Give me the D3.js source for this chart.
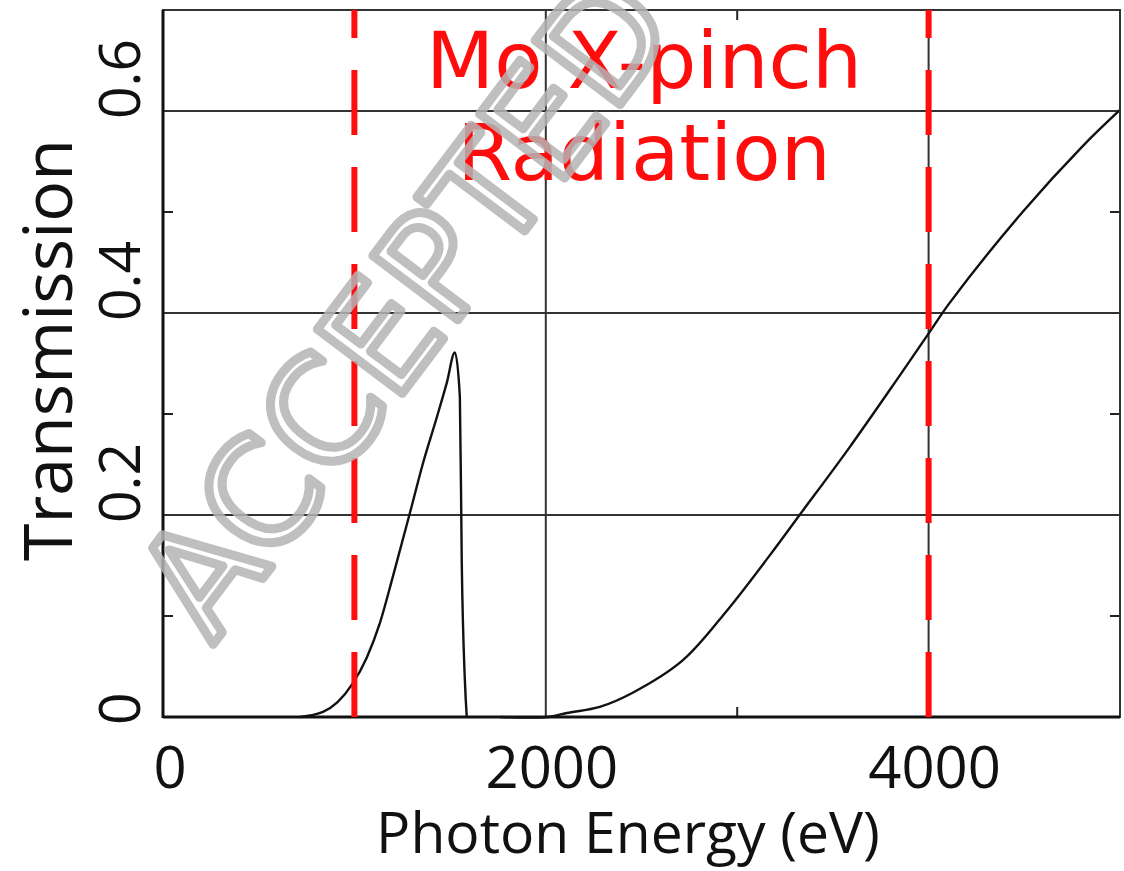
<!DOCTYPE html>
<html>
<head>
<meta charset="utf-8">
<script src="https://cdn.jsdelivr.net/npm/d3@7"></script>
<style>
  html, body { margin: 0; padding: 0; background: #fff; }
  svg { display: block; }
</style>
</head>
<body>
<div id="chart"></div>
<script>
// --- data ---
// first window (below the Mo L-edge region)
const energyLow = [715, 836, 987, 1065, 1133, 1201, 1290, 1358, 1431, 1483, 1525, 1551, 1561, 1577, 1587];
const transLow  = [0, 0.005, 0.032, 0.059, 0.093, 0.139, 0.202, 0.251, 0.297, 0.331, 0.361, 0.317, 0.152, 0.037, 0];
// second window (above the edge)
const energyHigh = [1760, 2010, 2110, 2282, 2454, 2715, 2945, 3170, 3326, 3587, 3849, 4005, 4110, 4491, 4804, 5000];
const transHigh  = [0, 0, 0.004, 0.010, 0.024, 0.056, 0.105, 0.160, 0.200, 0.267, 0.338, 0.381, 0.410, 0.500, 0.565, 0.601];

const xMajor = [0, 2000, 4000];
const xMinor = [1000, 3000];
const yMajor = [0, 0.2, 0.4, 0.6];
const yMinor = [0.1, 0.3, 0.5];
const markerEnergies = [1000, 4000];   // red dashed limits
const annotation = ["Mo X-pinch", "Radiation"];

const W = 1124, H = 871;
const plot = { left: 163, right: 1120, top: 10, bottom: 717 };

const svg = d3.select("#chart").append("svg")
  .attr("width", W).attr("height", H);

const x = d3.scaleLinear().domain([0, 5000]).range([plot.left, plot.right]);
const y = d3.scaleLinear().domain([0, 0.7]).range([plot.bottom, plot.top]);

// --- grid ---
const grid = svg.append("g").attr("stroke", "#333").attr("stroke-width", 2);
grid.selectAll("line.gx").data(xMajor.filter(d => d > 0)).join("line")
  .attr("x1", d => x(d)).attr("x2", d => x(d))
  .attr("y1", plot.top).attr("y2", plot.bottom);
grid.selectAll("line.gy").data(yMajor.filter(d => d > 0)).join("line")
  .attr("y1", d => y(d)).attr("y2", d => y(d))
  .attr("x1", plot.left).attr("x2", plot.right);

// minor ticks, inward on all four sides
const tickLen = 10;
const ticks = svg.append("g").attr("stroke", "#222").attr("stroke-width", 2);
xMinor.forEach(v => {
  ticks.append("line").attr("x1", x(v)).attr("x2", x(v)).attr("y1", plot.bottom).attr("y2", plot.bottom - tickLen);
  ticks.append("line").attr("x1", x(v)).attr("x2", x(v)).attr("y1", plot.top).attr("y2", plot.top + tickLen);
});
yMinor.forEach(v => {
  ticks.append("line").attr("y1", y(v)).attr("y2", y(v)).attr("x1", plot.left).attr("x2", plot.left + tickLen);
  ticks.append("line").attr("y1", y(v)).attr("y2", y(v)).attr("x1", plot.right).attr("x2", plot.right - tickLen);
});

// --- curves ---
const lineLow = d3.line()
  .x(d => x(d[0])).y(d => y(d[1]))
  .curve(d3.curveMonotoneX);
const lineHigh = d3.line()
  .x(d => x(d[0])).y(d => y(d[1]))
  .curve(d3.curveCatmullRom.alpha(0.5));

svg.append("path")
  .datum(energyLow.map((e, i) => [e, transLow[i]]))
  .attr("fill", "none").attr("stroke", "#111").attr("stroke-width", 2.4)
  .attr("d", lineLow);

svg.append("path")
  .datum(energyHigh.map((e, i) => [e, transHigh[i]]))
  .attr("fill", "none").attr("stroke", "#111").attr("stroke-width", 2.4)
  .attr("d", lineHigh);

// --- frame ---
svg.append("rect")
  .attr("x", plot.left).attr("y", plot.top)
  .attr("width", plot.right - plot.left).attr("height", plot.bottom - plot.top)
  .attr("fill", "none").attr("stroke", "#333").attr("stroke-width", 2);
svg.append("line")
  .attr("x1", plot.left).attr("x2", plot.left).attr("y1", plot.top).attr("y2", plot.bottom + 1)
  .attr("stroke", "#111").attr("stroke-width", 3);
svg.append("line")
  .attr("x1", plot.left).attr("x2", plot.right).attr("y1", plot.bottom).attr("y2", plot.bottom)
  .attr("stroke", "#111").attr("stroke-width", 3);

// --- red dashed limits (dash pattern starts at the bottom) ---
svg.append("g").selectAll("line").data(markerEnergies).join("line")
  .attr("x1", d => x(d)).attr("x2", d => x(d))
  .attr("y1", y(0)).attr("y2", y(0.7))
  .attr("stroke", "#ff0d0d").attr("stroke-width", 6)
  .attr("stroke-dasharray", "65,32");

// --- annotation ---
svg.append("g").selectAll("text").data(annotation).join("text")
  .attr("x", 644).attr("y", (d, i) => 88 + i * 92)
  .attr("text-anchor", "middle")
  .attr("fill", "#ff0d0d")
  .style("font-family", "'DejaVu Sans', sans-serif")
  .style("font-size", "79px")
  .text(d => d);

// --- tick labels ---
const labelFont = "'Open Sans', sans-serif";
svg.append("g").selectAll("text").data(xMajor).join("text")
  .attr("x", d => x(d) + (d === 0 ? 7 : 6)).attr("y", 788)
  .attr("text-anchor", "middle")
  .attr("fill", "#111")
  .style("font-family", labelFont).style("font-size", "58px")
  .text(d => d);

svg.append("g").selectAll("text").data(yMajor).join("text")
  .attr("transform", d => `translate(140,${y(d) + 8}) rotate(-90)`)
  .attr("text-anchor", "start")
  .attr("fill", "#111")
  .style("font-family", labelFont).style("font-size", "57px")
  .text(d => d === 0 ? "0" : d3.format(".1f")(d));

// --- axis titles ---
svg.append("text")
  .attr("x", 628).attr("y", 853)
  .attr("text-anchor", "middle").attr("fill", "#111")
  .style("font-family", labelFont).style("font-size", "57px")
  .text("Photon Energy (eV)");

svg.append("text")
  .attr("transform", "translate(72,350) rotate(-90)")
  .attr("text-anchor", "middle").attr("fill", "#111")
  .style("font-family", labelFont).style("font-size", "68px")
  .text("Transmission");

// --- watermark ---
svg.append("text")
  .attr("transform", "translate(405,305) rotate(-53)")
  .attr("text-anchor", "middle").attr("dy", "0.35em")
  .attr("fill", "none").attr("stroke", "#b4b4b4").attr("stroke-width", 9)
  .attr("stroke-linejoin", "round").attr("opacity", 0.85)
  .style("font-family", "'DejaVu Sans', sans-serif").style("font-size", "146px")
  .text("ACCEPTED");
</script>
</body>
</html>
